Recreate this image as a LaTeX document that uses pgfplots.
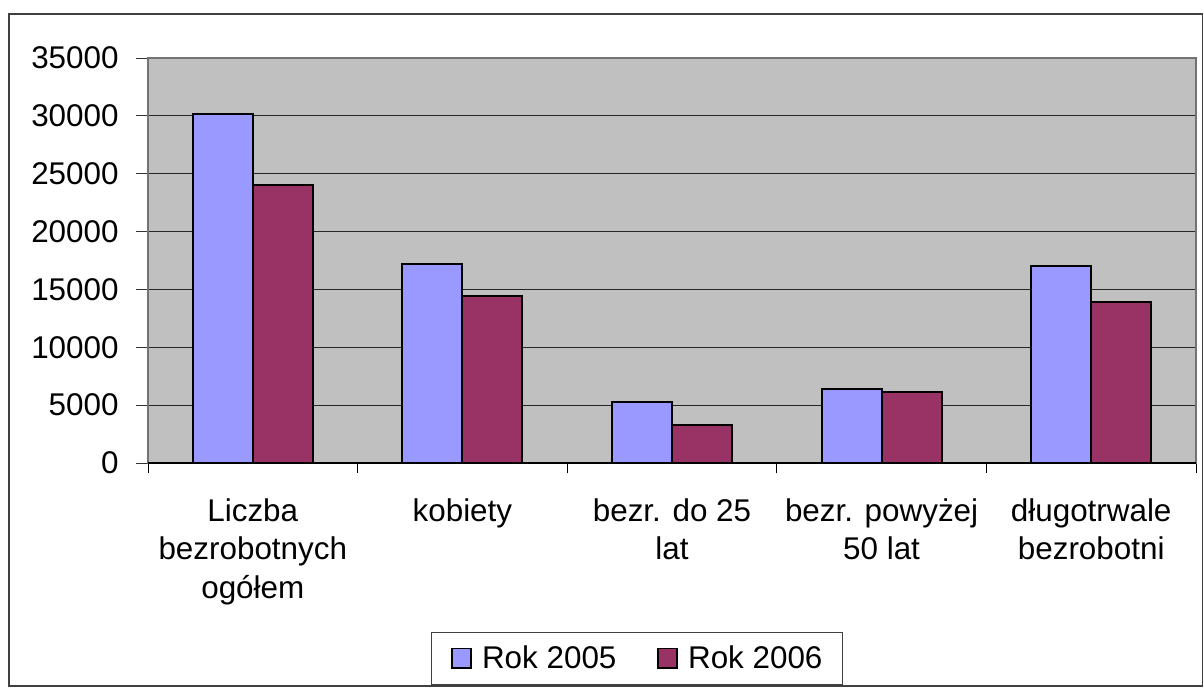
\documentclass[border=0pt]{standalone}
\usepackage{pgfplots}
\pgfplotsset{compat=1.18}
\usepackage{fontspec}
\setmainfont{Liberation Sans}
\definecolor{bar05}{HTML}{9999FF}
\definecolor{bar06}{HTML}{993366}
\definecolor{plotbg}{HTML}{C0C0C0}
\begin{document}
\begin{tikzpicture}[x=1pt,y=1pt]
\path[use as bounding box] (0,0) rectangle (602,343.5);
\draw[black!75, line width=0.6pt] (4.5,0.5) rectangle (601.3,336.5);
\begin{axis}[
  at={(126.4pt,112pt)}, anchor=origin,
  width=524pt, height=202.5pt, scale only axis,
  ybar=0pt, bar width=30pt,
  xmin=-0.5, xmax=4.5, ymin=0, ymax=35000,
  xtick={0,...,4},
  xticklabels={{Liczba\\bezrobotnych\\ogółem},kobiety,{bezr. do 25\\lat},{bezr. powyżej\\50 lat},{długotrwale\\bezrobotni}},
  minor xtick={-0.5,0.5,1.5,2.5,3.5,4.5},
  ytick={0,5000,...,35000},
  xtick pos=bottom, ytick pos=left,
  % ticks drawn inside and moved outwards, so that labels sit at known places
  tick align=inside,
  major tick length=6pt, minor tick length=5pt,
  xtick style={draw=none},
  minor x tick style={draw=black, line width=0.5pt, yshift=-5pt},
  ytick style={draw=black!80, line width=0.5pt, xshift=-6pt},
  scaled y ticks=false,
  /pgf/number format/1000 sep={},
  /pgf/number format/assume math mode=true,
  ticklabel style={font=\fontsize{15.7}{19.25}\selectfont, inner sep=0pt},
  xticklabel style={align=center, anchor=north, yshift=-17.5pt},
  yticklabel style={anchor=east, xshift=-14.5pt},
  axis background/.style={fill=plotbg},
  axis line style={draw=black!55, line width=0.6pt},
  ymajorgrids, major grid style={draw=black!85, line width=0.5pt},
  legend columns=2,
  legend style={at={(0.4666,-0.4827)}, anchor=center, draw=black!75, line width=0.6pt,
    font=\fontsize{15.7}{18}\selectfont, inner xsep=10pt, inner ysep=6.6pt,
    nodes={inner sep=0pt},
    /tikz/every odd column/.append style={column sep=5pt},
    /tikz/every even column/.append style={column sep=20.5pt}},
  legend image code/.code={\draw[#1,line width=0.8pt] (0pt,-4.9pt) rectangle (9.5pt,4.9pt);},
]
\addplot[fill=bar05, draw=black, line width=1pt] coordinates {(0,30200) (1,17200) (2,5300) (3,6400) (4,17000)};
\addplot[fill=bar06, draw=black, line width=1pt] coordinates {(0,24000) (1,14400) (2,3250) (3,6100) (4,13950)};
\legend{Rok 2005,Rok 2006}
\draw[black, line width=0.6pt] (rel axis cs:0,0) -- (rel axis cs:1,0);
\end{axis}
\end{tikzpicture}
\end{document}
